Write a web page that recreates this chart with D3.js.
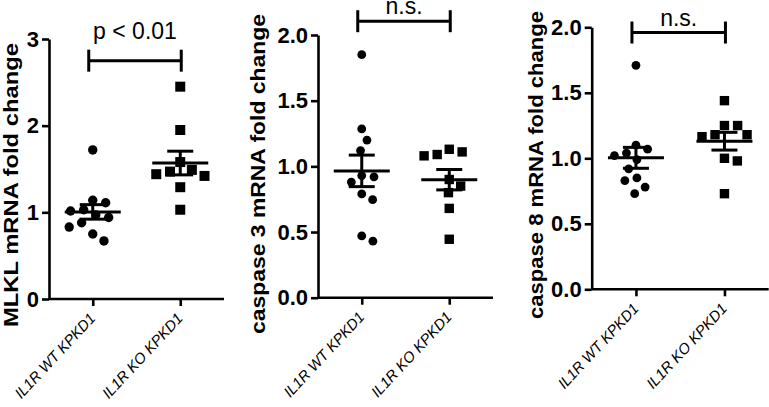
<!DOCTYPE html>
<html>
<head>
<meta charset="utf-8">
<script src="https://cdn.jsdelivr.net/npm/d3@7"></script>
<style>
  html, body { margin: 0; padding: 0; background: #fff; }
  svg { display: block; }
  text { font-family: "Liberation Sans", Arial, Helvetica, sans-serif; fill: #000; }
</style>
</head>
<body>
<svg id="chart" width="769" height="407"></svg>
<script>
// ---- data ----
const categories = ["IL1R WT KPKD1", "IL1R KO KPKD1"];

const mlklWT = [1.72, 1.14, 1.11, 1.03, 1.015, 0.97, 0.94, 0.88, 0.83, 0.75, 0.67];
const mlklKO = [2.45, 1.95, 1.58, 1.49, 1.47, 1.44, 1.42, 1.29, 1.03];

const casp3WT = [1.85, 1.285, 1.20, 1.12, 0.93, 0.88, 0.92, 0.79, 0.746, 0.47, 0.43];
const casp3KO = [1.13, 1.09, 1.08, 1.11, 0.90, 0.85, 0.80, 0.68, 0.445];

const casp8WT = [1.71, 1.10, 1.07, 0.99, 1.04, 1.02, 0.92, 0.83, 0.85, 0.78, 0.73];
const casp8KO = [1.44, 1.25, 1.25, 1.18, 1.18, 1.165, 1.00, 0.98, 0.73];

const yTitles = ["MLKL mRNA fold change", "caspase 3 mRNA fold change", "caspase 8 mRNA fold change"];
const yTicks = [[0, 1, 2, 3], [0, 0.5, 1.0, 1.5, 2.0], [0, 0.5, 1.0, 1.5, 2.0]];
const yMax = [3, 2, 2];
const sigLabels = ["p < 0.01", "n.s.", "n.s."];
const bracketLevel = [2.75, 2.105, 1.96];

// ---- layout (positions / sizes, not data) ----
const panels = [
  { ax: 49,    y0: 299,   yTop: 39,   w: 175, fmt: d3.format("d"),   titleX: 18,  titleY: 185, titleLen: 284 },
  { ax: 318,   y0: 297.7, yTop: 35,   w: 175, fmt: d3.format(".1f"), titleX: 265, titleY: 174, titleLen: 320 },
  { ax: 591.7, y0: 289.3, yTop: 27.3, w: 177, fmt: d3.format(".1f"), titleX: 543, titleY: 165, titleLen: 308 }
];
const series = [[mlklWT, mlklKO], [casp3WT, casp3KO], [casp8WT, casp8KO]];

const svg = d3.select("#chart");
const SW = 2.6;

// simple beeswarm: horizontal offsets so markers don't overlap
function swarm(values, yScale, d) {
  const order = values.map((v, i) => i).sort((a, b) => values[b] - values[a]);
  const placed = [];
  const off = new Array(values.length).fill(0);
  order.forEach(i => {
    const y = yScale(values[i]);
    const cands = [0];
    placed.forEach(p => {
      const dy = Math.abs(p.y - y);
      if (dy < d) {
        const dx = Math.sqrt(d * d - dy * dy);
        cands.push(p.x + dx, p.x - dx);
      }
    });
    cands.sort((a, b) => Math.abs(a) - Math.abs(b));
    let chosen = 0;
    for (const c of cands) {
      const ok = placed.every(p => (p.x - c) ** 2 + (p.y - y) ** 2 >= d * d - 0.01);
      if (ok) { chosen = c; break; }
    }
    placed.push({ x: chosen, y });
    off[i] = chosen;
  });
  return off;
}

panels.forEach((P, k) => {
  const g = svg.append("g");
  const y = d3.scaleLinear().domain([0, yMax[k]]).range([P.y0, P.yTop]);
  const x = d3.scalePoint().domain(categories).range([P.ax, P.ax + P.w]).padding(0.5);

  // y axis
  const ya = g.append("g").attr("transform", `translate(${P.ax},0)`)
    .call(d3.axisLeft(y).tickValues(yTicks[k]).tickFormat(P.fmt).tickSize(7).tickSizeOuter(0).tickPadding(3));
  ya.select(".domain").attr("stroke", "#000").attr("stroke-width", SW);
  ya.selectAll(".tick line").attr("stroke", "#000").attr("stroke-width", SW);
  ya.selectAll(".tick text").attr("font-size", 22).attr("font-weight", "bold")
    .attr("font-family", "'Liberation Sans', Arial, sans-serif").attr("fill", "#000");

  // x axis
  const xa = g.append("g").attr("transform", `translate(0,${P.y0})`)
    .call(d3.axisBottom(x).tickSize(7).tickSizeOuter(0).tickPadding(6));
  xa.select(".domain").attr("stroke", "#000").attr("stroke-width", SW)
    .attr("d", `M${P.ax},0H${P.ax + P.w}`);
  xa.selectAll(".tick line").attr("stroke", "#000").attr("stroke-width", SW);
  xa.selectAll(".tick text")
    .attr("font-size", 15).attr("font-style", "italic")
    .attr("font-family", "'Liberation Sans', Arial, sans-serif").attr("fill", "#000")
    .attr("text-anchor", "end")
    .attr("x", 0).attr("y", 0).attr("dy", 0)
    .attr("textLength", 110).attr("lengthAdjust", "spacingAndGlyphs")
    .attr("transform", "translate(3,20) rotate(-47)");

  // y title
  g.append("text")
    .attr("transform", `translate(${P.titleX},${P.titleY}) rotate(-90)`)
    .attr("text-anchor", "middle")
    .attr("font-size", 21).attr("font-weight", "bold")
    .attr("textLength", P.titleLen).attr("lengthAdjust", "spacingAndGlyphs")
    .text(yTitles[k]);

  // points
  series[k].forEach((vals, j) => {
    const cx = x(categories[j]);
    const isCircle = j === 0;
    const d = isCircle ? (k === 0 ? 9.4 : 8.8) : (k === 0 ? 10 : 9.4);
    const off = swarm(vals, y, d * 1.4);
    if (isCircle) {
      g.selectAll(null).data(vals).enter().append("circle")
        .attr("cx", (v, i) => cx + off[i]).attr("cy", v => y(v))
        .attr("r", d / 2).attr("fill", "#000");
    } else {
      g.selectAll(null).data(vals).enter().append("rect")
        .attr("x", (v, i) => cx + off[i] - d / 2).attr("y", v => y(v) - d / 2)
        .attr("width", d).attr("height", d).attr("fill", "#000");
    }
    // mean +/- SEM
    const m = d3.mean(vals);
    const sem = d3.deviation(vals) / Math.sqrt(vals.length);
    const mw = 28, cw = 13;
    const ln = (x1, y1, x2, y2) => g.append("line").attr("x1", x1).attr("y1", y1).attr("x2", x2).attr("y2", y2)
      .attr("stroke", "#000").attr("stroke-width", 3);
    ln(cx - mw, y(m), cx + mw, y(m));
    ln(cx, y(m - sem), cx, y(m + sem));
    ln(cx - cw, y(m + sem), cx + cw, y(m + sem));
    ln(cx - cw, y(m - sem), cx + cw, y(m - sem));
  });

  // significance bracket
  const by = y(bracketLevel[k]);
  const x1 = x(categories[0]) - 4, x2 = x(categories[1]) + 1;
  const bl = (a, b, c, d) => g.append("line").attr("x1", a).attr("y1", b).attr("x2", c).attr("y2", d)
    .attr("stroke", "#000").attr("stroke-width", 3);
  bl(x1, by, x2, by);
  bl(x1, by - 11, x1, by + 11);
  bl(x2, by - 11, x2, by + 11);
  g.append("text").attr("x", (x1 + x2) / 2).attr("y", by - 22 + (k === 0 ? 0 : 15))
    .attr("text-anchor", "middle").attr("font-size", 23)
    .text(sigLabels[k]);
});
</script>
</body>
</html>
